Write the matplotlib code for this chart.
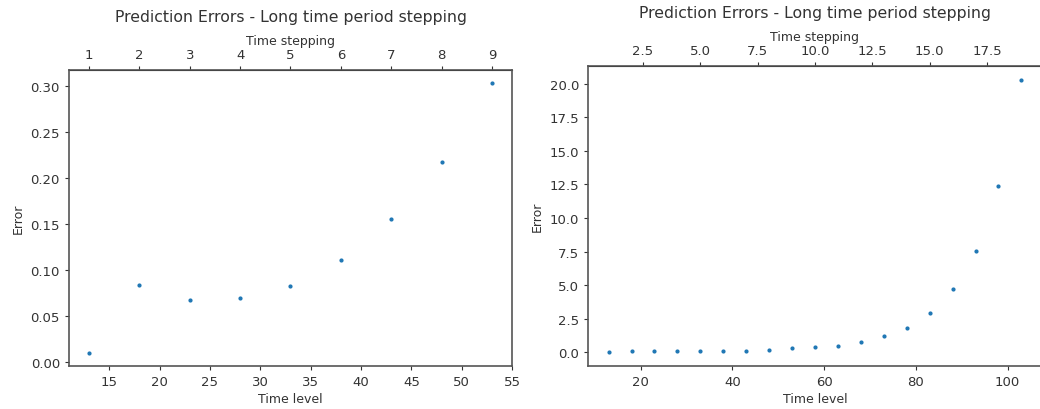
import matplotlib
matplotlib.use('Agg')
from matplotlib import pyplot as plt

# left panel: short run
levels_short = [13, 18, 23, 28, 33, 38, 43, 48, 53]
steps_short = [1, 2, 3, 4, 5, 6, 7, 8, 9]
errors_short = [0.0106, 0.0844, 0.068, 0.0696, 0.083, 0.111, 0.1554, 0.2177, 0.3033]

# right panel: long run
levels_long = [13, 18, 23, 28, 33, 38, 43, 48, 53, 58,
               63, 68, 73, 78, 83, 88, 93, 98, 103]
errors_long = [0.0, 0.1, 0.1, 0.1, 0.1, 0.1, 0.1, 0.2, 0.3, 0.4,
               0.5, 0.8, 1.22, 1.84, 2.96, 4.70, 7.56, 12.39, 20.3]
steps_long_ticks = [2.5, 5.0, 7.5, 10.0, 12.5, 15.0, 17.5]

TITLE = 'Prediction Errors - Long time period stepping'


def level_to_step(x):
    return (x - 8) / 5


def step_to_level(s):
    return s * 5 + 8


def panel(ax, levels, errors, top_ticks):
    ax.plot(levels, errors, '.', color='tab:blue', ms=4)
    ax.set_xlabel('Time level', fontsize=9, labelpad=3, color='#333333')
    ax.set_ylabel('Error', fontsize=9, labelpad=4, color='#333333')
    ax.tick_params(labelsize=9.5, colors='#333333', length=3)
    top = ax.secondary_xaxis('top', functions=(level_to_step, step_to_level))
    top.set_xlabel('Time stepping', fontsize=9, labelpad=3, color='#333333')
    top.tick_params(labelsize=9.5, colors='#333333', length=3)
    top.set_xticks(top_ticks)
    ax.set_title(TITLE, fontsize=11.3, color='#333333', pad=9)
    for sp in ax.spines.values():
        sp.set_color('#555555')
        sp.set_linewidth(1.2)
    return top


fig = plt.figure(figsize=(10.4, 4.1), dpi=100)
ax1 = fig.add_axes([69 / 1040, 43 / 410, 443 / 1040, 296 / 410])
ax2 = fig.add_axes([588 / 1040, 43 / 410, 454 / 1040, 300 / 410])

panel(ax1, levels_short, errors_short, steps_short)
panel(ax2, levels_long, errors_long, steps_long_ticks)
ax1.set_xticks([15, 20, 25, 30, 35, 40, 45, 50, 55])
ax2.set_xticks([20, 40, 60, 80, 100])

fig.savefig('out.png', dpi=100)
